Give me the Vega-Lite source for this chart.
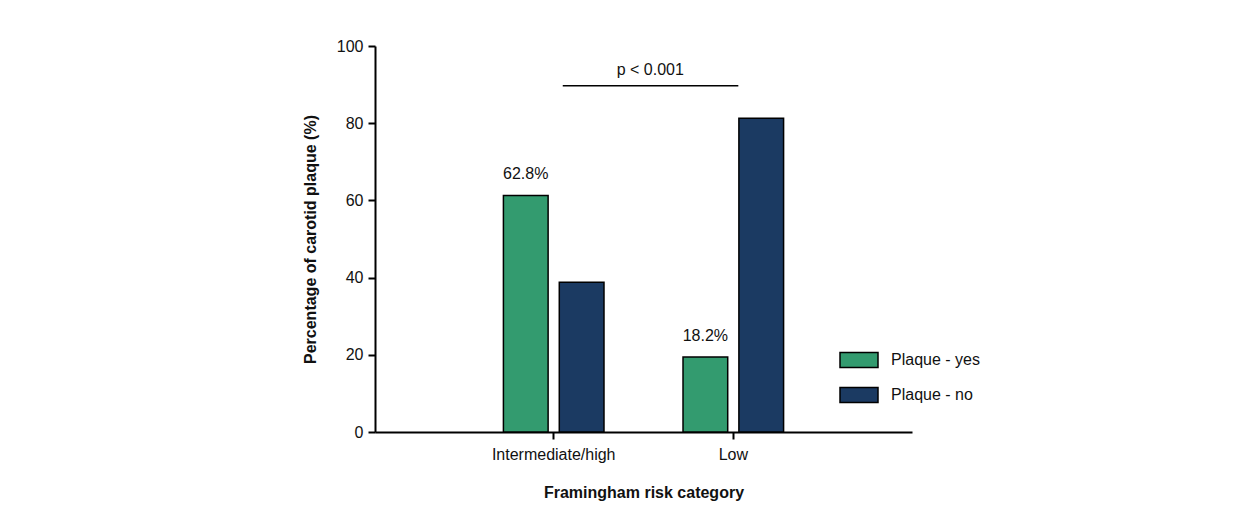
{
  "$schema": "https://vega.github.io/schema/vega-lite/v6.json",
  "width": 537,
  "height": 386,
  "autosize": {"type": "none"},
  "padding": {"left": 375, "top": 46, "right": 339, "bottom": 91},
  "background": "white",
  "config": {
    "view": {"stroke": null},
    "font": "Liberation Sans",
    "axis": {
      "domainColor": "black",
      "domainWidth": 2,
      "tickColor": "black",
      "tickWidth": 2,
      "tickSize": 7,
      "labelFont": "Liberation Sans",
      "labelFontSize": 16,
      "labelColor": "#111",
      "titleFont": "Liberation Sans",
      "titleFontSize": 16,
      "titleFontWeight": "bold",
      "titleColor": "#111",
      "grid": false
    }
  },
  "datasets": {
    "bars": [
      {"cat": "Intermediate/high", "plaque": "Plaque - yes", "pct": 61.3, "label": "62.8%"},
      {"cat": "Intermediate/high", "plaque": "Plaque - no", "pct": 38.8, "label": ""},
      {"cat": "Low", "plaque": "Plaque - yes", "pct": 19.4, "label": "18.2%"},
      {"cat": "Low", "plaque": "Plaque - no", "pct": 81.3, "label": ""}
    ],
    "sig": [
      {"from": "Intermediate/high", "to": "Low", "y": 89.7, "text": "p < 0.001"}
    ]
  },
  "layer": [
    {
      "data": {"name": "bars"},
      "mark": {"type": "bar", "stroke": "black", "strokeWidth": 1.5},
      "encoding": {
        "x": {
          "field": "cat", "type": "nominal",
          "scale": {"domain": ["Intermediate/high", "Low"], "paddingInner": 0.44, "paddingOuter": 0.715},
          "axis": {"labelAngle": 0, "labelPadding": 7, "title": "Framingham risk category", "titlePadding": 22}
        },
        "xOffset": {
          "field": "plaque", "type": "nominal",
          "scale": {"domain": ["Plaque - yes", "Plaque - no"], "paddingInner": 0.2, "paddingOuter": 0}
        },
        "y": {
          "field": "pct", "type": "quantitative",
          "scale": {"domain": [0, 100], "nice": false},
          "axis": {"values": [0, 20, 40, 60, 80, 100], "labelPadding": 5, "title": "Percentage of carotid plaque (%)", "titlePadding": 18}
        },
        "color": {
          "field": "plaque", "type": "nominal",
          "scale": {"domain": ["Plaque - yes", "Plaque - no"], "range": ["#339b6f", "#1b3a62"]},
          "legend": {
            "title": null,
            "orient": "none",
            "legendX": 464,
            "legendY": 294,
            "symbolType": "M-1,-0.4H1V0.4H-1Z",
            "symbolSize": 1444,
            "symbolStrokeColor": "black",
            "symbolStrokeWidth": 1.5,
            "symbolOpacity": 1,
            "labelFont": "Liberation Sans",
            "labelFontSize": 16,
            "labelColor": "#111",
            "labelOffset": 12,
            "rowPadding": 4
          }
        }
      }
    },
    {
      "data": {"name": "bars"},
      "mark": {"type": "text", "baseline": "alphabetic", "dy": -16, "fontSize": 16, "font": "Liberation Sans", "color": "#111"},
      "encoding": {
        "x": {"field": "cat", "type": "nominal"},
        "xOffset": {"field": "plaque", "type": "nominal"},
        "y": {"field": "pct", "type": "quantitative"},
        "text": {"field": "label"}
      }
    },
    {
      "data": {"name": "sig"},
      "mark": {"type": "rule", "color": "black", "strokeWidth": 1.5},
      "encoding": {
        "x": {"field": "from", "type": "nominal", "bandPosition": 0.59},
        "x2": {"field": "to", "bandPosition": 0.55},
        "y": {"field": "y", "type": "quantitative"}
      }
    },
    {
      "data": {"name": "sig"},
      "mark": {"type": "text", "baseline": "alphabetic", "dy": -11, "fontSize": 16, "font": "Liberation Sans", "color": "#111"},
      "encoding": {
        "x": {"field": "from", "type": "nominal", "bandPosition": 1.46},
        "y": {"field": "y", "type": "quantitative"},
        "text": {"field": "text"}
      }
    }
  ]
}
